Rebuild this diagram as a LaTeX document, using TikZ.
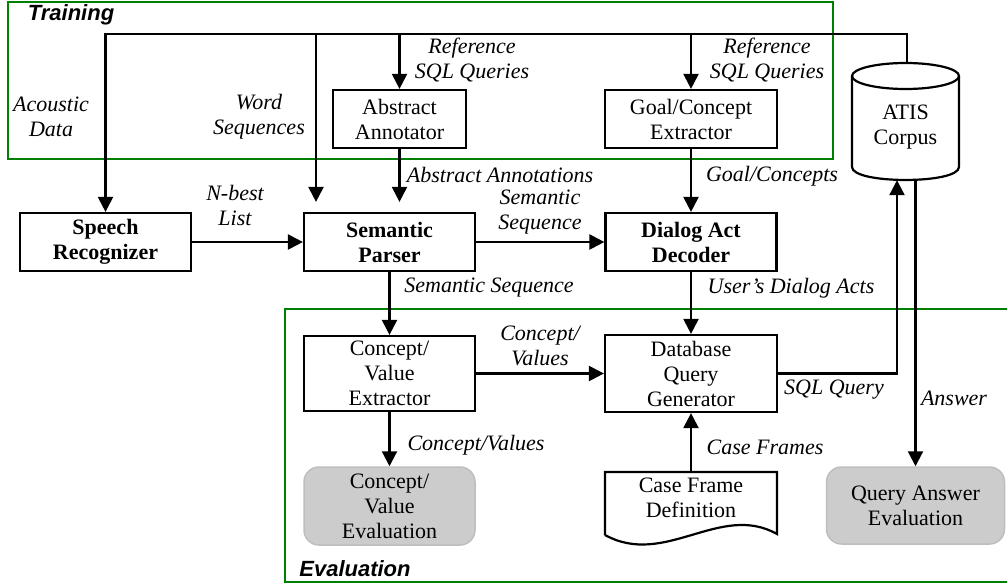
\documentclass[tikz,border=0pt]{standalone}
\usepackage{fontspec}
\setmainfont{Liberation Serif}
\newfontfamily\grpfont{Liberation Sans}
\usetikzlibrary{arrows.meta,calc}
\definecolor{grpgreen}{RGB}{0,128,0}
\definecolor{evalfill}{RGB}{204,204,204}
\definecolor{evaldraw}{RGB}{190,190,190}
\begin{document}
\begin{tikzpicture}[x=1pt,y=-1pt,
  txt/.style={font=\fontsize{22}{25}\selectfont},
  box/.style={draw, line width=2.2pt, align=center, inner sep=0pt, txt},
  bbox/.style={box, font=\bfseries\fontsize{22}{25}\selectfont},
  evalbox/.style={draw=evaldraw, fill=evalfill, line width=1.5pt, rounded corners=15pt, align=center, inner sep=0pt, txt},
  lab/.style={font=\itshape\fontsize{22}{25}\selectfont, align=center, inner sep=0pt},
  arr/.style={line width=2.2pt, -{Triangle[length=15pt,width=15pt]}},
  grp/.style={draw=grpgreen, line width=2.5pt},
  grplab/.style={font=\grpfont\bfseries\itshape\fontsize{22}{25}\selectfont, inner sep=0pt}
]
\useasboundingbox (0,0) rectangle (1007,588);

% group frames
\draw[grp] (8,2) rectangle (833,159);
\draw[grp] (285,309) rectangle (1015,582);
\node[grplab] (trlab) at (71,15) {Training};
\node[grplab] (evlab) at (355,569) {Evaluation};

% boxes
\node[box, minimum width=133pt, minimum height=58pt] (aa) at (399.5,119) {Abstract\\Annotator};
\node[box, minimum width=172pt, minimum height=58pt] (gce) at (691,119) {Goal/Concept\\Extractor};
\node[bbox, minimum width=171pt, minimum height=58pt] (sr) at (105.5,242) {Speech\\Recognizer};
\node[bbox, minimum width=171pt, minimum height=58pt] (sp) at (389.5,242) {Semantic\\Parser};
\node[bbox, minimum width=171pt, minimum height=58pt] (dad) at (691,242) {Dialog Act\\Decoder};
\node[box, minimum width=171pt, minimum height=75pt] (cve) at (389.5,373.5) {Concept/\\Value\\Extractor};
\node[box, minimum width=172pt, minimum height=77pt] (dqg) at (691,373.5) {Database\\Query\\Generator};
\node[evalbox, minimum width=171pt, minimum height=78pt] (cvev) at (389.5,506) {Concept/\\Value\\Evaluation};
\node[evalbox, minimum width=178pt, minimum height=77pt] (qae) at (915.5,505.5) {Query Answer\\Evaluation};

% document shape
\node[txt, align=center, inner sep=0pt, minimum width=172pt, minimum height=52pt] (cfd) at (691,498) {Case Frame\\Definition};
\draw[line width=2.2pt, line join=miter] (605,535) -- (605,472) -- (777,472) -- (777,534)
  .. controls (720,502) and (665,568) .. (605,535);

% cylinder
\draw[line width=2.2pt] (905.5,76) ellipse [x radius=53.5, y radius=13];
\draw[line width=2.2pt] (852,76) -- (852,167) .. controls (852,184.3) and (959,184.3) .. (959,167) -- (959,76);
\node[txt, align=center, inner sep=0pt, minimum width=107pt, minimum height=106pt] (corpus) at (905.5,127) {ATIS\\Corpus};
\coordinate (ctop) at (907,63);
\coordinate (tr) at (907,34);
\coordinate (ws) at (316,34);

% connectors
\draw[arr] (ctop) -- (tr) -| (sr.north);
\draw[arr] (tr -| aa.north) -- (aa.north);
\draw[arr] (tr -| gce.north) -- (gce.north);
\draw[arr, shorten >=10pt] (ws) -- (ws |- sp.north);
\draw[arr, shorten >=10pt] (aa.south) -- (aa.south |- sp.north);
\draw[arr] (gce.south) -- (dad.north);
\draw[arr] (sr.east) -- (sp.west);
\draw[arr] (sp.east) -- (dad.west);
\draw[arr] (sp.south) -- (cve.north);
\draw[arr] (dad.south) -- (dqg.north);
\draw[arr] (cve.east) -- (dqg.west);
\draw[arr] (cve.south) -- (cvev.north);
\draw[arr] (cfd.north) -- (dqg.south);
\draw[arr] (dqg.east) -| ($(corpus.south)+(-8.5,0)$);
\draw[arr] (corpus.south -| qae.north) -- (qae.north);

% labels
\node[lab] (l1) at (51,117) {Acoustic\\Data};
\node[lab] (l2) at (259,117) {Word\\Sequences};
\node[lab] (l3) at (472,60) {Reference\\SQL Queries};
\node[lab] (l4) at (767,60) {Reference\\SQL Queries};
\node[lab] (l5) at (235,205) {N-best\\List};
\node[lab] (l6) at (500,175) {Abstract Annotations};
\node[lab] (l7) at (540,212) {Semantic\\Sequence};
\node[lab] (l8) at (772,176) {Goal/Concepts};
\node[lab] (l9) at (489,288) {Semantic Sequence};
\node[lab] (l10) at (791,288) {User’s Dialog Acts};
\node[lab] (l11) at (540,346) {Concept/\\Values};
\node[lab] (l12) at (834,390) {SQL Query};
\node[lab] (l13) at (954,398) {Answer};
\node[lab] (l14) at (476,445) {Concept/Values};
\node[lab] (l15) at (765,447) {Case Frames};
\end{tikzpicture}
\end{document}
